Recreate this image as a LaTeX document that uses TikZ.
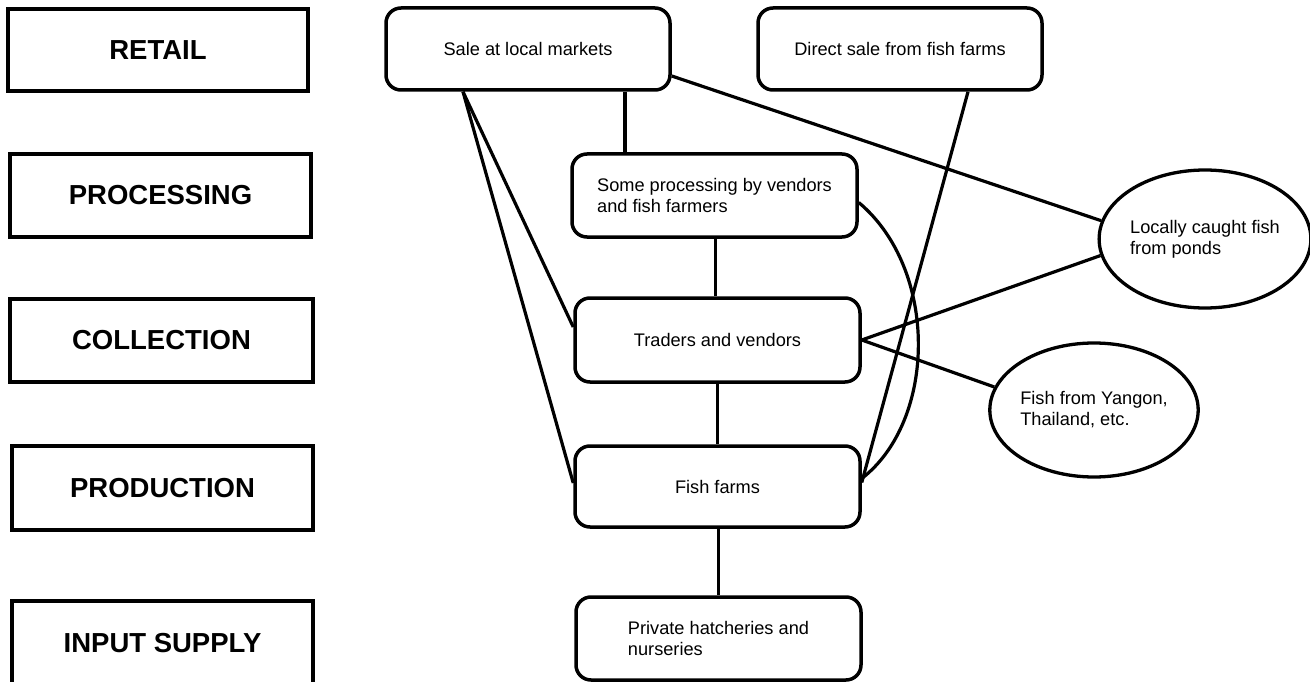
\documentclass[tikz,border=0pt]{standalone}
\usepackage{fontspec}
\setmainfont{Liberation Sans}
\usetikzlibrary{shapes.geometric}
\begin{document}
\begin{tikzpicture}[x=1pt,y=-1pt,
  stage/.style={draw,line width=4.5pt,minimum width=300pt,minimum height=82pt,inner sep=0pt,
    font=\fontsize{27.5}{33}\selectfont\bfseries},
  rbox/.style={draw,line width=3.5pt,rounded corners=15pt,minimum width=285pt,minimum height=82pt,
    inner sep=0pt,align=left,font=\fontsize{18.2}{21}\selectfont},
  oval/.style={draw,ellipse,line width=3.3pt,inner sep=0pt,align=left,font=\fontsize{18.2}{21}\selectfont},
  link/.style={line width=3.2pt}]
\useasboundingbox (0,0) rectangle (1310,682);
% stage boxes
\node[stage] (retail) at (158,50) {RETAIL};
\node[stage,minimum width=301pt,minimum height=83pt] (processing) at (160.5,195.5) {PROCESSING};
\node[stage,minimum width=303pt,minimum height=83pt] (collection) at (161.5,340.5) {COLLECTION};
\node[stage,minimum width=301pt,minimum height=84pt] (production) at (162.5,488) {PRODUCTION};
\node[stage,minimum width=301pt,minimum height=84pt] (input) at (162.5,643) {INPUT SUPPLY};
% chain boxes
\node[rbox,minimum width=284pt] (sale) at (528,49) {Sale at local markets};
\node[rbox,minimum width=284pt] (direct) at (900,49) {Direct sale from fish farms};
\node[rbox,minimum height=83pt] (proc) at (714.5,195.5) {Some processing by vendors\\and fish farmers};
\node[rbox,minimum height=84pt] (traders) at (717.5,340) {Traders and vendors};
\node[rbox,minimum height=81pt] (farms) at (717.5,486.5) {Fish farms};
\node[rbox,minimum height=83pt] (hatch) at (718.5,638.5) {Private hatcheries and\\nurseries};
% ellipses
\node[oval,minimum width=204pt,minimum height=138pt] (local) at (1205,239) {Locally caught fish\\from ponds};
\node[oval,minimum width=202pt,minimum height=134pt] (yangon) at (1094,410) {Fish from Yangon,\\Thailand, etc.};
% connectors
\draw[link] ([xshift=97pt]sale.south) -- ([xshift=97pt]sale.south |- proc.north);
\draw[link] ([xshift=1pt]proc.south) -- ([xshift=1pt]proc.south |- traders.north);
\draw[link] (traders.south) -- (traders.south |- farms.north);
\draw[link] ([xshift=1pt]farms.south) -- ([xshift=1pt]farms.south |- hatch.north);
\draw[link] ([xshift=-65pt]sale.south) -- ([yshift=13pt]traders.west);
\draw[link] ([xshift=-65pt]sale.south) -- ([yshift=3.5pt]farms.west);
\draw[link] ([yshift=-27pt]sale.east) -- (local.170);
\draw[link] (traders.east) -- (local.189);
\draw[link] (traders.east) -- (yangon.167);
\draw[link] ([xshift=68pt]direct.south) -- ([yshift=4pt]farms.east);
\draw[link] ([yshift=-7pt]proc.east) .. controls +(80,67) and +(75,-58) .. ([yshift=8pt]farms.east);
\end{tikzpicture}
\end{document}
